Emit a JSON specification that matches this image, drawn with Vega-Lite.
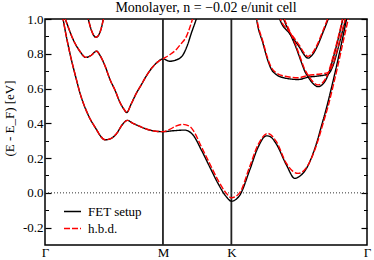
{
  "$schema": "https://vega.github.io/schema/vega-lite/v6.json",
  "width": 322,
  "height": 226,
  "autosize": {"type": "none"},
  "padding": {"left": 45, "top": 19, "right": 7, "bottom": 15},
  "background": "white",
  "title": {"text": "Monolayer, n = −0.02 e/unit cell", "frame": "group", "font": "Liberation Serif", "fontSize": 14, "fontWeight": "normal", "color": "#000", "offset": -2},
  "config": {
    "font": "Liberation Serif",
    "view": {"stroke": "#000", "strokeWidth": 1.5},
    "axis": {"grid": false, "domain": false, "labelColor": "#000", "titleColor": "#000", "tickColor": "#000", "labelFont": "Liberation Serif", "titleFont": "Liberation Serif"}
  },
  "datasets": {
    "kpts": [{"k": 1.0}, {"k": 1.58}],
    "bands": [
      {"s":"FET setup","b":"b1","x":0,"y":1.75},{"s":"FET setup","b":"b1","x":0.042,"y":1.5},{"s":"FET setup","b":"b1","x":0.093,"y":1.25},{"s":"FET setup","b":"b1","x":0.153,"y":1.0},{"s":"FET setup","b":"b1","x":0.212,"y":0.8},{"s":"FET setup","b":"b1","x":0.263,"y":0.66},{"s":"FET setup","b":"b1","x":0.297,"y":0.573},{"s":"FET setup","b":"b1","x":0.365,"y":0.45},{"s":"FET setup","b":"b1","x":0.439,"y":0.361},{"s":"FET setup","b":"b1","x":0.467,"y":0.33},{"s":"FET setup","b":"b1","x":0.509,"y":0.305},{"s":"FET setup","b":"b1","x":0.552,"y":0.31},{"s":"FET setup","b":"b1","x":0.608,"y":0.342},{"s":"FET setup","b":"b1","x":0.653,"y":0.39},{"s":"FET setup","b":"b1","x":0.698,"y":0.417},{"s":"FET setup","b":"b1","x":0.738,"y":0.403},{"s":"FET setup","b":"b1","x":0.778,"y":0.39},{"s":"FET setup","b":"b1","x":0.891,"y":0.361},{"s":"FET setup","b":"b1","x":0.959,"y":0.353},{"s":"FET setup","b":"b1","x":1.0,"y":0.352},
      {"s":"FET setup","b":"b1","x":1.085,"y":0.357},{"s":"FET setup","b":"b1","x":1.184,"y":0.361},{"s":"FET setup","b":"b1","x":1.255,"y":0.333},{"s":"FET setup","b":"b1","x":1.326,"y":0.246},{"s":"FET setup","b":"b1","x":1.396,"y":0.15},{"s":"FET setup","b":"b1","x":1.467,"y":0.054},{"s":"FET setup","b":"b1","x":1.538,"y":-0.023},{"s":"FET setup","b":"b1","x":1.58,"y":-0.048},
      {"s":"FET setup","b":"b1","x":1.65,"y":-0.015},{"s":"FET setup","b":"b1","x":1.735,"y":0.13},{"s":"FET setup","b":"b1","x":1.805,"y":0.26},{"s":"FET setup","b":"b1","x":1.877,"y":0.328},{"s":"FET setup","b":"b1","x":1.905,"y":0.325},{"s":"FET setup","b":"b1","x":1.962,"y":0.28},{"s":"FET setup","b":"b1","x":2.047,"y":0.16},{"s":"FET setup","b":"b1","x":2.118,"y":0.083},{"s":"FET setup","b":"b1","x":2.146,"y":0.09},{"s":"FET setup","b":"b1","x":2.217,"y":0.141},{"s":"FET setup","b":"b1","x":2.302,"y":0.285},{"s":"FET setup","b":"b1","x":2.344,"y":0.385},{"s":"FET setup","b":"b1","x":2.387,"y":0.49},{"s":"FET setup","b":"b1","x":2.429,"y":0.605},{"s":"FET setup","b":"b1","x":2.472,"y":0.73},{"s":"FET setup","b":"b1","x":2.514,"y":0.86},{"s":"FET setup","b":"b1","x":2.557,"y":1.0},{"s":"FET setup","b":"b1","x":2.642,"y":1.3},{"s":"FET setup","b":"b1","x":2.73,"y":1.6},
      {"s":"FET setup","b":"b2","x":0,"y":1.4},{"s":"FET setup","b":"b2","x":0.093,"y":1.15},{"s":"FET setup","b":"b2","x":0.172,"y":1.0},{"s":"FET setup","b":"b2","x":0.24,"y":0.88},{"s":"FET setup","b":"b2","x":0.297,"y":0.813},{"s":"FET setup","b":"b2","x":0.345,"y":0.779},{"s":"FET setup","b":"b2","x":0.39,"y":0.79},{"s":"FET setup","b":"b2","x":0.437,"y":0.815},{"s":"FET setup","b":"b2","x":0.467,"y":0.79},{"s":"FET setup","b":"b2","x":0.509,"y":0.73},{"s":"FET setup","b":"b2","x":0.552,"y":0.65},{"s":"FET setup","b":"b2","x":0.594,"y":0.59},{"s":"FET setup","b":"b2","x":0.636,"y":0.52},{"s":"FET setup","b":"b2","x":0.67,"y":0.48},{"s":"FET setup","b":"b2","x":0.692,"y":0.462},{"s":"FET setup","b":"b2","x":0.73,"y":0.51},{"s":"FET setup","b":"b2","x":0.772,"y":0.57},{"s":"FET setup","b":"b2","x":0.815,"y":0.62},{"s":"FET setup","b":"b2","x":0.857,"y":0.67},{"s":"FET setup","b":"b2","x":0.908,"y":0.72},{"s":"FET setup","b":"b2","x":0.959,"y":0.755},{"s":"FET setup","b":"b2","x":1.0,"y":0.771},
      {"s":"FET setup","b":"b2","x":1.057,"y":0.757},{"s":"FET setup","b":"b2","x":1.114,"y":0.765},{"s":"FET setup","b":"b2","x":1.17,"y":0.794},{"s":"FET setup","b":"b2","x":1.205,"y":0.845},{"s":"FET setup","b":"b2","x":1.241,"y":0.919},{"s":"FET setup","b":"b2","x":1.283,"y":1.0},{"s":"FET setup","b":"b2","x":1.311,"y":1.06},{"s":"FET setup","b":"b2","x":1.36,"y":1.2},
      {"s":"FET setup","b":"b3","x":0.331,"y":1.12},{"s":"FET setup","b":"b3","x":0.367,"y":1.0},{"s":"FET setup","b":"b3","x":0.399,"y":0.925},{"s":"FET setup","b":"b3","x":0.433,"y":0.895},{"s":"FET setup","b":"b3","x":0.467,"y":0.925},{"s":"FET setup","b":"b3","x":0.495,"y":1.0},{"s":"FET setup","b":"b3","x":0.526,"y":1.12},
      {"s":"FET setup","b":"b4","x":1.76,"y":1.2},{"s":"FET setup","b":"b4","x":1.794,"y":1.0},{"s":"FET setup","b":"b4","x":1.848,"y":0.86},{"s":"FET setup","b":"b4","x":1.89,"y":0.76},{"s":"FET setup","b":"b4","x":1.92,"y":0.71},{"s":"FET setup","b":"b4","x":1.962,"y":0.68},{"s":"FET setup","b":"b4","x":2.018,"y":0.663},{"s":"FET setup","b":"b4","x":2.146,"y":0.652},{"s":"FET setup","b":"b4","x":2.23,"y":0.665},{"s":"FET setup","b":"b4","x":2.313,"y":0.672},{"s":"FET setup","b":"b4","x":2.398,"y":0.682},{"s":"FET setup","b":"b4","x":2.441,"y":0.73},{"s":"FET setup","b":"b4","x":2.484,"y":0.83},{"s":"FET setup","b":"b4","x":2.526,"y":0.94},{"s":"FET setup","b":"b4","x":2.55,"y":1.0},{"s":"FET setup","b":"b4","x":2.6,"y":1.15},
      {"s":"FET setup","b":"b5","x":1.95,"y":1.1},{"s":"FET setup","b":"b5","x":1.99,"y":1.0},{"s":"FET setup","b":"b5","x":2.075,"y":0.915},{"s":"FET setup","b":"b5","x":2.16,"y":0.835},{"s":"FET setup","b":"b5","x":2.202,"y":0.79},{"s":"FET setup","b":"b5","x":2.23,"y":0.775},{"s":"FET setup","b":"b5","x":2.262,"y":0.79},{"s":"FET setup","b":"b5","x":2.313,"y":0.85},{"s":"FET setup","b":"b5","x":2.355,"y":0.92},{"s":"FET setup","b":"b5","x":2.401,"y":1.0},{"s":"FET setup","b":"b5","x":2.44,"y":1.08},
      {"s":"FET setup","b":"b6","x":1.99,"y":1.08},{"s":"FET setup","b":"b6","x":2.024,"y":1.0},{"s":"FET setup","b":"b6","x":2.075,"y":0.92},{"s":"FET setup","b":"b6","x":2.126,"y":0.84},{"s":"FET setup","b":"b6","x":2.177,"y":0.745},{"s":"FET setup","b":"b6","x":2.202,"y":0.7},{"s":"FET setup","b":"b6","x":2.23,"y":0.668},{"s":"FET setup","b":"b6","x":2.27,"y":0.63},{"s":"FET setup","b":"b6","x":2.316,"y":0.611},{"s":"FET setup","b":"b6","x":2.355,"y":0.625},{"s":"FET setup","b":"b6","x":2.398,"y":0.675},{"s":"FET setup","b":"b6","x":2.441,"y":0.77},{"s":"FET setup","b":"b6","x":2.484,"y":0.88},{"s":"FET setup","b":"b6","x":2.526,"y":1.0},{"s":"FET setup","b":"b6","x":2.56,"y":1.1},

      {"s":"h.b.d.","b":"b1","x":0,"y":1.75},{"s":"h.b.d.","b":"b1","x":0.042,"y":1.5},{"s":"h.b.d.","b":"b1","x":0.093,"y":1.25},{"s":"h.b.d.","b":"b1","x":0.153,"y":1.0},{"s":"h.b.d.","b":"b1","x":0.212,"y":0.8},{"s":"h.b.d.","b":"b1","x":0.263,"y":0.66},{"s":"h.b.d.","b":"b1","x":0.297,"y":0.573},{"s":"h.b.d.","b":"b1","x":0.365,"y":0.45},{"s":"h.b.d.","b":"b1","x":0.439,"y":0.361},{"s":"h.b.d.","b":"b1","x":0.467,"y":0.33},{"s":"h.b.d.","b":"b1","x":0.509,"y":0.305},{"s":"h.b.d.","b":"b1","x":0.552,"y":0.31},{"s":"h.b.d.","b":"b1","x":0.608,"y":0.342},{"s":"h.b.d.","b":"b1","x":0.653,"y":0.39},{"s":"h.b.d.","b":"b1","x":0.698,"y":0.417},{"s":"h.b.d.","b":"b1","x":0.738,"y":0.403},{"s":"h.b.d.","b":"b1","x":0.778,"y":0.39},{"s":"h.b.d.","b":"b1","x":0.891,"y":0.361},{"s":"h.b.d.","b":"b1","x":0.959,"y":0.353},{"s":"h.b.d.","b":"b1","x":1.0,"y":0.352},
      {"s":"h.b.d.","b":"b1","x":1.057,"y":0.365},{"s":"h.b.d.","b":"b1","x":1.114,"y":0.385},{"s":"h.b.d.","b":"b1","x":1.17,"y":0.394},{"s":"h.b.d.","b":"b1","x":1.227,"y":0.382},{"s":"h.b.d.","b":"b1","x":1.255,"y":0.361},{"s":"h.b.d.","b":"b1","x":1.326,"y":0.265},{"s":"h.b.d.","b":"b1","x":1.396,"y":0.169},{"s":"h.b.d.","b":"b1","x":1.467,"y":0.073},{"s":"h.b.d.","b":"b1","x":1.538,"y":-0.003},{"s":"h.b.d.","b":"b1","x":1.58,"y":-0.029},
      {"s":"h.b.d.","b":"b1","x":1.65,"y":0.0},{"s":"h.b.d.","b":"b1","x":1.735,"y":0.15},{"s":"h.b.d.","b":"b1","x":1.805,"y":0.275},{"s":"h.b.d.","b":"b1","x":1.89,"y":0.342},{"s":"h.b.d.","b":"b1","x":1.962,"y":0.294},{"s":"h.b.d.","b":"b1","x":2.047,"y":0.169},{"s":"h.b.d.","b":"b1","x":2.1,"y":0.125},{"s":"h.b.d.","b":"b1","x":2.146,"y":0.112},{"s":"h.b.d.","b":"b1","x":2.23,"y":0.16},{"s":"h.b.d.","b":"b1","x":2.316,"y":0.304},{"s":"h.b.d.","b":"b1","x":2.358,"y":0.4},{"s":"h.b.d.","b":"b1","x":2.401,"y":0.5},{"s":"h.b.d.","b":"b1","x":2.443,"y":0.615},{"s":"h.b.d.","b":"b1","x":2.486,"y":0.74},{"s":"h.b.d.","b":"b1","x":2.528,"y":0.87},{"s":"h.b.d.","b":"b1","x":2.571,"y":1.0},{"s":"h.b.d.","b":"b1","x":2.655,"y":1.3},{"s":"h.b.d.","b":"b1","x":2.73,"y":1.58},
      {"s":"h.b.d.","b":"b2","x":0,"y":1.4},{"s":"h.b.d.","b":"b2","x":0.093,"y":1.15},{"s":"h.b.d.","b":"b2","x":0.172,"y":1.0},{"s":"h.b.d.","b":"b2","x":0.24,"y":0.88},{"s":"h.b.d.","b":"b2","x":0.297,"y":0.813},{"s":"h.b.d.","b":"b2","x":0.345,"y":0.779},{"s":"h.b.d.","b":"b2","x":0.39,"y":0.79},{"s":"h.b.d.","b":"b2","x":0.437,"y":0.815},{"s":"h.b.d.","b":"b2","x":0.467,"y":0.79},{"s":"h.b.d.","b":"b2","x":0.509,"y":0.73},{"s":"h.b.d.","b":"b2","x":0.552,"y":0.65},{"s":"h.b.d.","b":"b2","x":0.594,"y":0.59},{"s":"h.b.d.","b":"b2","x":0.636,"y":0.52},{"s":"h.b.d.","b":"b2","x":0.67,"y":0.48},{"s":"h.b.d.","b":"b2","x":0.692,"y":0.462},{"s":"h.b.d.","b":"b2","x":0.73,"y":0.51},{"s":"h.b.d.","b":"b2","x":0.772,"y":0.57},{"s":"h.b.d.","b":"b2","x":0.815,"y":0.62},{"s":"h.b.d.","b":"b2","x":0.857,"y":0.67},{"s":"h.b.d.","b":"b2","x":0.908,"y":0.72},{"s":"h.b.d.","b":"b2","x":0.959,"y":0.755},{"s":"h.b.d.","b":"b2","x":1.0,"y":0.771},
      {"s":"h.b.d.","b":"b2","x":1.057,"y":0.794},{"s":"h.b.d.","b":"b2","x":1.114,"y":0.825},{"s":"h.b.d.","b":"b2","x":1.15,"y":0.855},{"s":"h.b.d.","b":"b2","x":1.199,"y":0.9},{"s":"h.b.d.","b":"b2","x":1.227,"y":0.95},{"s":"h.b.d.","b":"b2","x":1.255,"y":1.01},{"s":"h.b.d.","b":"b2","x":1.29,"y":1.1},{"s":"h.b.d.","b":"b2","x":1.33,"y":1.2},
      {"s":"h.b.d.","b":"b3","x":0.331,"y":1.12},{"s":"h.b.d.","b":"b3","x":0.367,"y":1.0},{"s":"h.b.d.","b":"b3","x":0.399,"y":0.925},{"s":"h.b.d.","b":"b3","x":0.433,"y":0.895},{"s":"h.b.d.","b":"b3","x":0.467,"y":0.925},{"s":"h.b.d.","b":"b3","x":0.495,"y":1.0},{"s":"h.b.d.","b":"b3","x":0.526,"y":1.12},
      {"s":"h.b.d.","b":"b4","x":1.76,"y":1.21},{"s":"h.b.d.","b":"b4","x":1.794,"y":1.01},{"s":"h.b.d.","b":"b4","x":1.848,"y":0.87},{"s":"h.b.d.","b":"b4","x":1.89,"y":0.77},{"s":"h.b.d.","b":"b4","x":1.92,"y":0.72},{"s":"h.b.d.","b":"b4","x":1.962,"y":0.69},{"s":"h.b.d.","b":"b4","x":2.018,"y":0.673},{"s":"h.b.d.","b":"b4","x":2.146,"y":0.662},{"s":"h.b.d.","b":"b4","x":2.23,"y":0.675},{"s":"h.b.d.","b":"b4","x":2.313,"y":0.682},{"s":"h.b.d.","b":"b4","x":2.398,"y":0.692},{"s":"h.b.d.","b":"b4","x":2.441,"y":0.74},{"s":"h.b.d.","b":"b4","x":2.484,"y":0.84},{"s":"h.b.d.","b":"b4","x":2.526,"y":0.95},{"s":"h.b.d.","b":"b4","x":2.55,"y":1.01},{"s":"h.b.d.","b":"b4","x":2.6,"y":1.16},
      {"s":"h.b.d.","b":"b5","x":1.95,"y":1.11},{"s":"h.b.d.","b":"b5","x":1.99,"y":1.01},{"s":"h.b.d.","b":"b5","x":2.075,"y":0.925},{"s":"h.b.d.","b":"b5","x":2.16,"y":0.845},{"s":"h.b.d.","b":"b5","x":2.202,"y":0.8},{"s":"h.b.d.","b":"b5","x":2.23,"y":0.785},{"s":"h.b.d.","b":"b5","x":2.262,"y":0.8},{"s":"h.b.d.","b":"b5","x":2.313,"y":0.86},{"s":"h.b.d.","b":"b5","x":2.355,"y":0.93},{"s":"h.b.d.","b":"b5","x":2.401,"y":1.01},{"s":"h.b.d.","b":"b5","x":2.44,"y":1.09},
      {"s":"h.b.d.","b":"b6","x":1.99,"y":1.09},{"s":"h.b.d.","b":"b6","x":2.024,"y":1.01},{"s":"h.b.d.","b":"b6","x":2.075,"y":0.93},{"s":"h.b.d.","b":"b6","x":2.126,"y":0.85},{"s":"h.b.d.","b":"b6","x":2.177,"y":0.755},{"s":"h.b.d.","b":"b6","x":2.202,"y":0.71},{"s":"h.b.d.","b":"b6","x":2.23,"y":0.678},{"s":"h.b.d.","b":"b6","x":2.27,"y":0.64},{"s":"h.b.d.","b":"b6","x":2.316,"y":0.621},{"s":"h.b.d.","b":"b6","x":2.355,"y":0.635},{"s":"h.b.d.","b":"b6","x":2.398,"y":0.685},{"s":"h.b.d.","b":"b6","x":2.441,"y":0.78},{"s":"h.b.d.","b":"b6","x":2.484,"y":0.89},{"s":"h.b.d.","b":"b6","x":2.526,"y":1.01},{"s":"h.b.d.","b":"b6","x":2.56,"y":1.11}
    ]
  },
  "resolve": {"axis": {"y": "independent"}},
  "layer": [
    {
      "data": {"name": "kpts"},
      "mark": {"type": "rule", "stroke": "#222", "strokeWidth": 1.8},
      "encoding": {
        "x": {"field": "k", "type": "quantitative", "scale": {"domain": [0, 2.73]},
              "axis": {"values": [0, 1, 1.58, 2.73], "labelExpr": "datum.value < 0.5 ? 'Γ' : datum.value < 1.3 ? 'M' : datum.value < 2 ? 'K' : 'Γ'", "ticks": false, "domain": false, "title": null, "labelFontSize": 13, "labelPadding": 1, "labelFlush": false, "labelOverlap": false, "labelBound": false}},
        "y": {"datum": -0.3, "type": "quantitative", "scale": {"domain": [-0.3, 1.0]},
              "axis": {"orient": "left", "values": [-0.1, 0.1, 0.3, 0.5, 0.7, 0.9], "tickSize": -3.5, "tickWidth": 1, "labels": false, "title": null, "domain": false}},
        "y2": {"datum": 1.0}
      }
    },
    {
      "data": {"values": [{}]},
      "mark": {"type": "rule", "stroke": "#333", "strokeWidth": 1, "strokeDash": [1, 2]},
      "encoding": {
        "y": {"datum": 0, "type": "quantitative", "scale": {"domain": [-0.3, 1.0]},
              "axis": {"orient": "right", "values": [-0.1, 0.1, 0.3, 0.5, 0.7, 0.9], "tickSize": -3.5, "tickWidth": 1, "labels": false, "title": null, "domain": false}}
      }
    },
    {
      "data": {"name": "bands"},
      "transform": [{"filter": "datum.s == 'FET setup'"}],
      "mark": {"type": "line", "interpolate": "monotone", "strokeWidth": 1.4, "clip": true},
      "encoding": {
        "x": {"field": "x", "type": "quantitative", "scale": {"domain": [0, 2.73]},
              "axis": {"values": [0, 1, 1.58, 2.73], "labelExpr": "datum.value < 0.5 ? 'Γ' : datum.value < 1.3 ? 'M' : datum.value < 2 ? 'K' : 'Γ'", "ticks": false, "domain": false, "title": null, "labelFontSize": 13, "labelPadding": 1, "labelFlush": false, "labelOverlap": false, "labelBound": false}},
        "y": {"field": "y", "type": "quantitative", "scale": {"domain": [-0.3, 1.0]},
              "axis": {"orient": "left", "values": [-0.2, 0, 0.2, 0.4, 0.6, 0.8, 1.0], "labelExpr": "replace(format(datum.value, '.1f'), '−', '-')", "tickSize": -6, "tickWidth": 1.2, "labelPadding": 8, "labelFontSize": 13, "labelFlush": false, "title": "(E - E_F) [eV]", "titleFontSize": 13, "titleFontWeight": "normal", "titleAngle": -90, "titleX": -36, "titleY": 99, "titleAlign": "center", "titleBaseline": "middle", "domain": false}},
        "color": {"field": "s", "type": "nominal", "scale": {"domain": ["FET setup", "h.b.d."], "range": ["#000000", "#ff0000"]},
                  "legend": {"orient": "none", "legendX": 18, "legendY": 183, "title": null, "symbolType": "stroke", "symbolSize": 289, "symbolStrokeWidth": 1.6, "labelFontSize": 13, "labelColor": "#000", "labelFont": "Liberation Serif", "rowPadding": -2, "labelOffset": 6, "padding": 0}},
        "strokeDash": {"field": "s", "type": "nominal", "scale": {"domain": ["FET setup", "h.b.d."], "range": [[1, 0], [6, 2]]},
                  "legend": {"orient": "none", "legendX": 18, "legendY": 183, "title": null, "symbolType": "stroke", "symbolSize": 289, "symbolStrokeWidth": 1.6, "labelFontSize": 13, "labelColor": "#000", "labelFont": "Liberation Serif", "rowPadding": -2, "labelOffset": 6, "padding": 0}},
        "detail": {"field": "b"}
      }
    },
    {
      "data": {"name": "bands"},
      "transform": [{"filter": "datum.s == 'h.b.d.'"}],
      "mark": {"type": "line", "interpolate": "monotone", "strokeWidth": 1.4, "clip": true},
      "encoding": {
        "x": {"field": "x", "type": "quantitative", "scale": {"domain": [0, 2.73]},
              "axis": {"values": [0, 1, 1.58, 2.73], "labelExpr": "datum.value < 0.5 ? 'Γ' : datum.value < 1.3 ? 'M' : datum.value < 2 ? 'K' : 'Γ'", "ticks": false, "domain": false, "title": null, "labelFontSize": 13, "labelPadding": 1, "labelFlush": false, "labelOverlap": false, "labelBound": false}},
        "y": {"field": "y", "type": "quantitative", "scale": {"domain": [-0.3, 1.0]},
              "axis": {"orient": "right", "values": [-0.2, 0, 0.2, 0.4, 0.6, 0.8, 1.0], "tickSize": -6, "tickWidth": 1.2, "labels": false, "title": null, "domain": false}},
        "color": {"field": "s", "type": "nominal", "scale": {"domain": ["FET setup", "h.b.d."], "range": ["#000000", "#ff0000"]},
                  "legend": {"orient": "none", "legendX": 18, "legendY": 183, "title": null, "symbolType": "stroke", "symbolSize": 289, "symbolStrokeWidth": 1.6, "labelFontSize": 13, "labelColor": "#000", "labelFont": "Liberation Serif", "rowPadding": -2, "labelOffset": 6, "padding": 0}},
        "strokeDash": {"field": "s", "type": "nominal", "scale": {"domain": ["FET setup", "h.b.d."], "range": [[1, 0], [6, 2]]},
                  "legend": {"orient": "none", "legendX": 18, "legendY": 183, "title": null, "symbolType": "stroke", "symbolSize": 289, "symbolStrokeWidth": 1.6, "labelFontSize": 13, "labelColor": "#000", "labelFont": "Liberation Serif", "rowPadding": -2, "labelOffset": 6, "padding": 0}},
        "detail": {"field": "b"}
      }
    }
  ]
}
